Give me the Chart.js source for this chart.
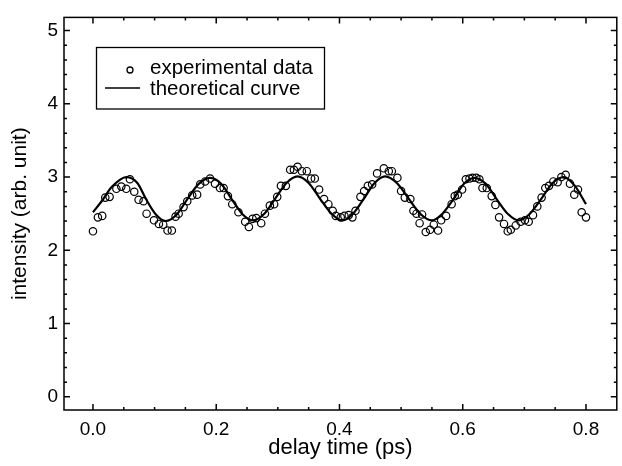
<!DOCTYPE html>
<html><head><meta charset="utf-8">
<script src="https://cdn.jsdelivr.net/npm/chart.js@4/dist/chart.umd.min.js"></script>
<style>html,body{margin:0;padding:0;background:#fff}#wrap{width:622px;height:466px}</style>
</head><body><div id="wrap"><canvas id="c" width="622" height="466"></canvas></div>
<script>
const expX=[0.000,0.008,0.015,0.020,0.027,0.038,0.046,0.054,0.060,0.067,0.074,0.082,0.087,0.099,0.107,0.114,0.121,0.128,0.134,0.139,0.147,0.153,0.161,0.169,0.174,0.182,0.190,0.198,0.206,0.212,0.219,0.226,0.236,0.247,0.253,0.259,0.265,0.273,0.279,0.287,0.294,0.299,0.305,0.313,0.320,0.326,0.332,0.339,0.347,0.354,0.360,0.367,0.375,0.382,0.389,0.394,0.402,0.408,0.415,0.421,0.426,0.434,0.440,0.446,0.453,0.461,0.472,0.480,0.485,0.494,0.500,0.506,0.515,0.520,0.525,0.530,0.534,0.540,0.547,0.553,0.560,0.565,0.573,0.582,0.587,0.592,0.599,0.605,0.611,0.616,0.622,0.627,0.632,0.639,0.647,0.653,0.659,0.667,0.673,0.678,0.686,0.694,0.701,0.707,0.714,0.721,0.728,0.734,0.740,0.747,0.754,0.760,0.767,0.774,0.781,0.787,0.793,0.800];
const expY=[2.26,2.45,2.47,2.72,2.73,2.84,2.87,2.84,2.97,2.80,2.69,2.67,2.50,2.41,2.36,2.35,2.27,2.27,2.46,2.50,2.59,2.67,2.75,2.76,2.90,2.94,2.98,2.91,2.85,2.85,2.74,2.63,2.52,2.39,2.32,2.43,2.44,2.37,2.50,2.61,2.63,2.73,2.88,2.88,3.10,3.10,3.14,3.08,3.08,2.98,2.98,2.83,2.70,2.63,2.54,2.47,2.45,2.47,2.48,2.45,2.54,2.73,2.81,2.88,2.90,3.05,3.12,3.08,3.08,2.99,2.81,2.72,2.70,2.54,2.50,2.37,2.49,2.25,2.28,2.35,2.27,2.41,2.47,2.63,2.74,2.76,2.83,2.97,2.98,2.99,2.99,2.97,2.85,2.85,2.74,2.62,2.45,2.36,2.26,2.28,2.34,2.39,2.41,2.39,2.48,2.60,2.72,2.85,2.88,2.94,2.93,3.00,3.03,2.91,2.76,2.83,2.52,2.45];
const curveX=[0.000,0.015,0.030,0.054,0.072,0.086,0.102,0.118,0.136,0.154,0.172,0.190,0.208,0.225,0.243,0.260,0.278,0.296,0.314,0.332,0.350,0.368,0.387,0.405,0.422,0.440,0.457,0.474,0.493,0.512,0.531,0.550,0.567,0.585,0.602,0.619,0.637,0.655,0.673,0.691,0.709,0.728,0.746,0.764,0.782,0.800];
const curveY=[2.52,2.68,2.86,3.00,2.92,2.70,2.49,2.40,2.49,2.71,2.91,2.99,2.91,2.70,2.49,2.41,2.50,2.71,2.92,3.01,2.92,2.71,2.50,2.41,2.50,2.71,2.92,3.01,2.92,2.71,2.50,2.41,2.50,2.70,2.91,2.99,2.91,2.70,2.50,2.41,2.50,2.71,2.92,3.00,2.88,2.63];
const xTicks=[0.0,0.2,0.4,0.6,0.8];
const xMinorTicks=[0.05,0.1,0.15,0.25,0.3,0.35,0.45,0.5,0.55,0.65,0.7,0.75];
const yTicks=[0,1,2,3,4,5];
const yMinorTicks=[0.2,0.4,0.6,0.8,1.2,1.4,1.6,1.8,2.2,2.4,2.6,2.8,3.2,3.4,3.6,3.8,4.2,4.4,4.6,4.8];
const seriesNames=['experimental data','theoretical curve'];
const xTitle='delay time (ps)';
const yTitle='intensity (arb. unit)';

const FONT='"Liberation Sans", Arial, Helvetica, sans-serif';

const framePlugin={
  id:'frame',
  afterDraw(chart){
    const ctx=chart.ctx, a=chart.chartArea, xs=chart.scales.x, ys=chart.scales.y;
    ctx.save();
    ctx.strokeStyle='#000';
    ctx.lineWidth=1.5;
    ctx.strokeRect(a.left,a.top,a.right-a.left,a.bottom-a.top);
    ctx.beginPath();
    const tick=(vals,len)=>{
      vals.forEach(v=>{
        const px=xs.getPixelForValue(v);
        ctx.moveTo(px,a.bottom); ctx.lineTo(px,a.bottom-len);
        ctx.moveTo(px,a.top); ctx.lineTo(px,a.top+len);
      });
    };
    const tickY=(vals,len)=>{
      vals.forEach(v=>{
        const py=ys.getPixelForValue(v);
        ctx.moveTo(a.left,py); ctx.lineTo(a.left+len,py);
        ctx.moveTo(a.right,py); ctx.lineTo(a.right-len,py);
      });
    };
    tick(xTicks,6); tick(xMinorTicks,3);
    tickY(yTicks,6); tickY(yMinorTicks,3);
    ctx.stroke();
    // legend box
    ctx.lineWidth=1.3;
    ctx.strokeRect(96.5,47.5,228,61.5);
    ctx.beginPath();
    ctx.arc(130,70,3,0,Math.PI*2);
    ctx.stroke();
    ctx.beginPath();
    ctx.moveTo(105,88); ctx.lineTo(140,88);
    ctx.lineWidth=1.5;
    ctx.stroke();
    ctx.fillStyle='#000';
    ctx.font='20.5px '+FONT;
    ctx.textBaseline='middle';
    ctx.textAlign='left';
    ctx.fillText(seriesNames[0],150,68);
    ctx.fillText(seriesNames[1],150,89);
    ctx.restore();
  }
};

new Chart(document.getElementById('c'),{
  type:'scatter',
  data:{datasets:[
    {label:seriesNames[0],data:expX.map((x,i)=>({x:x,y:expY[i]})),showLine:false,pointStyle:'circle',pointRadius:3.7,pointBorderWidth:1.2,pointBorderColor:'#000',pointBackgroundColor:'rgba(0,0,0,0)',order:2},
    {label:seriesNames[1],data:curveX.map((x,i)=>({x:x,y:curveY[i]})),showLine:true,pointRadius:0,borderColor:'#000',borderWidth:2.2,cubicInterpolationMode:'monotone',fill:false,order:1}
  ]},
  options:{
    responsive:false,animation:false,devicePixelRatio:1,
    layout:{padding:{left:0,right:1,top:9,bottom:0}},
    plugins:{legend:{display:false},tooltip:{enabled:false}},
    scales:{
      x:{type:'linear',min:-0.047,max:0.85,
        afterBuildTicks:s=>{s.ticks=xTicks.map(v=>({value:v}));},
        afterFit:s=>{s.height=56;},
        grid:{display:false,drawTicks:false},border:{display:false},
        ticks:{color:'#000',font:{family:FONT,size:19},padding:8,callback:v=>Number(v).toFixed(1),maxRotation:0},
        title:{display:true,text:xTitle,color:'#000',font:{family:FONT,size:22},padding:{top:0,bottom:5}}
      },
      y:{type:'linear',min:-0.18,max:5.18,
        afterBuildTicks:s=>{s.ticks=yTicks.map(v=>({value:v}));},
        afterFit:s=>{s.width=64;},
        grid:{display:false,drawTicks:false},border:{display:false},
        ticks:{color:'#000',font:{family:FONT,size:19},padding:6,callback:v=>String(v)},
        title:{display:true,text:yTitle,color:'#000',font:{family:FONT,size:21},padding:{top:8,bottom:0}}
      }
    }
  },
  plugins:[framePlugin]
});
</script></body></html>
